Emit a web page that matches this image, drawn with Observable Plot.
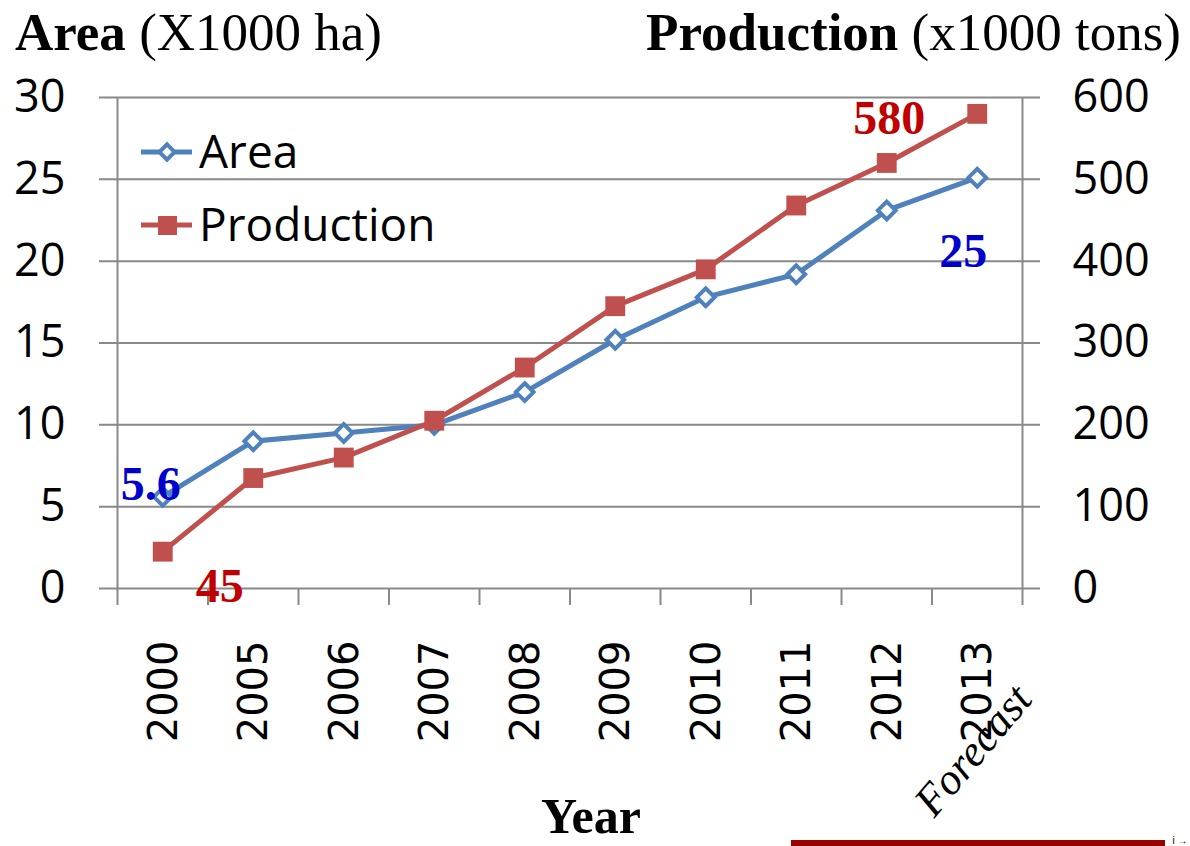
<!DOCTYPE html>
<html><head><meta charset="utf-8">
<script src="https://cdn.jsdelivr.net/npm/d3@7"></script>
<script src="https://cdn.jsdelivr.net/npm/@observablehq/plot@0.6"></script>
<style>
html,body{margin:0;padding:0;background:#fff;overflow:hidden;}
#wrap{position:relative;width:1190px;height:846px;overflow:hidden;background:#fff;}
#wrap > svg{display:block;}
#overlay{position:absolute;left:0;top:0;pointer-events:none;}
</style></head><body>
<div id="wrap"></div>
<script>
// ---- data ----
const years = ["2000","2005","2006","2007","2008","2009","2010","2011","2012","2013"];
const area = [5.6, 9.0, 9.5, 10.0, 12.0, 15.2, 17.8, 19.2, 23.1, 25.1];          // x1000 ha
const production = [45, 135, 160, 205, 270, 345, 390, 468, 520, 580];           // x1000 tons
const leftTicks = [0, 5, 10, 15, 20, 25, 30];
const rightTicks = [0, 100, 200, 300, 400, 500, 600];
const areaLabels = [{i: 0, text: "5.6"}, {i: 9, text: "25"}];
const prodLabels = [{i: 0, text: "45"}, {i: 9, text: "580"}];
const forecastNote = [{i: 9, text: "Forecast"}];

const ratio = 600 / 30;
const idx = years.map((_, i) => i);
const boundaries = d3.range(-0.5, years.length, 1);

const BLUE = "#4F81BD", RED = "#C0504D", GRID = "#898989";
const axisFont = "'Open Sans', 'Noto Sans', sans-serif";
const serif = "'Liberation Serif', 'Times New Roman', serif";

const plot = Plot.plot({
  width: 1190, height: 846,
  marginLeft: 117, marginRight: 168, marginTop: 97, marginBottom: 258,
  style: {background: "white", overflow: "visible"},
  x: {type: "linear", domain: [-0.5, years.length - 0.5]},
  y: {domain: [0, 30]},
  marks: [
    Plot.ruleY(leftTicks, {y: d => d, stroke: GRID, strokeWidth: 2, insetLeft: -18, insetRight: -18}),
    Plot.ruleX([-0.5, years.length - 0.5], {x: d => d, y1: 0, y2: 30, stroke: GRID, strokeWidth: 2}),
    Plot.axisX({ticks: boundaries, tickSize: 17, tickFormat: () => "", stroke: GRID, strokeWidth: 2}),
    Plot.axisY({ticks: leftTicks, tickSize: 0, tickPadding: 52, fontSize: 45, fontFamily: axisFont, fill: "black", label: null}),
    Plot.axisY({anchor: "right", ticks: rightTicks.map(v => v / ratio), tickFormat: v => Math.round(v * ratio),
                tickSize: 0, tickPadding: 50, fontSize: 45, fontFamily: axisFont, fill: "black", label: null}),
    Plot.text(idx, {x: i => i, text: i => years[i], frameAnchor: "bottom", rotate: -90, textAnchor: "end",
                    lineAnchor: "middle", dy: 52, dx: 1, fontSize: 40, fontFamily: "'DejaVu Sans', sans-serif",
                    fill: "black", ariaLabel: "xlabels"}),
    Plot.line(idx, {x: i => i, y: i => area[i], stroke: BLUE, strokeWidth: 5}),
    Plot.dot(idx, {x: i => i, y: i => area[i], symbol: "diamond2", r: 8, stroke: BLUE, strokeWidth: 4, fill: "white"}),
    Plot.line(idx, {x: i => i, y: i => production[i] / ratio, stroke: RED, strokeWidth: 5}),
    Plot.dot(idx, {x: i => i, y: i => production[i] / ratio, symbol: "square", r: 11.2, fill: RED, stroke: "none"}),
    Plot.text([areaLabels[0]], {x: "i", y: d => area[d.i], text: "text", dx: -12, dy: 3, lineAnchor: "bottom",
                    fontSize: 48, fontWeight: "bold", fontFamily: serif, fill: "#0000CC"}),
    Plot.text([areaLabels[1]], {x: "i", y: d => area[d.i], text: "text", dx: -14, dy: 89, lineAnchor: "bottom",
                    fontSize: 48, fontWeight: "bold", fontFamily: serif, fill: "#0000CC"}),
    Plot.text([prodLabels[0]], {x: "i", y: d => production[d.i] / ratio, text: "text", dx: 57, dy: 50, lineAnchor: "bottom",
                    fontSize: 48, fontWeight: "bold", fontFamily: serif, fill: "#C00000"}),
    Plot.text([prodLabels[1]], {x: "i", y: d => production[d.i] / ratio, text: "text", dx: -88, dy: 20, lineAnchor: "bottom",
                    fontSize: 48, fontWeight: "bold", fontFamily: serif, fill: "#C00000"}),
    Plot.text(forecastNote, {x: "i", text: "text", frameAnchor: "bottom", rotate: -50, dx: -4, dy: 162,
                    lineAnchor: "middle", fontSize: 44, fontStyle: "italic", fontFamily: serif, fill: "black"})
  ]
});

const wrap = document.getElementById("wrap");
wrap.appendChild(plot);
// make the DejaVu year labels taller, as in the reference
d3.select(plot).selectAll('g[aria-label="xlabels"] text').attr("transform", function() {
  return (this.getAttribute("transform") || "") + " scale(1,1.25)";
});

// ---- titles, legend, footer (layout text) ----
const ov = d3.select(wrap).append("svg").attr("id", "overlay").attr("width", 1190).attr("height", 846);
const t1 = ov.append("text").attr("x", 15).attr("y", 50).attr("font-family", serif).attr("font-size", 53);
t1.append("tspan").attr("font-weight", "bold").text("Area");
t1.append("tspan").text(" (X1000 ha)");
const t2 = ov.append("text").attr("x", 1181).attr("y", 50).attr("text-anchor", "end").attr("font-family", serif).attr("font-size", 53);
t2.append("tspan").attr("font-weight", "bold").text("Production");
t2.append("tspan").text(" (x1000 tons)");
ov.append("text").attr("x", 591).attr("y", 833).attr("text-anchor", "middle").attr("font-family", serif)
  .attr("font-size", 50).attr("font-weight", "bold").text("Year");
ov.append("rect").attr("x", 791).attr("y", 840).attr("width", 374).attr("height", 6).attr("fill", "#990000");

const legend = [{name: "Area", color: BLUE, sym: "diamond", y: 152}, {name: "Production", color: RED, sym: "square", y: 225}];
legend.forEach(l => {
  ov.append("line").attr("x1", 141).attr("x2", 192).attr("y1", l.y).attr("y2", l.y).attr("stroke", l.color).attr("stroke-width", 5);
  if (l.sym === "diamond") {
    ov.append("path").attr("d", d3.symbol(d3.symbolDiamond2, 150)()).attr("transform", `translate(167,${l.y})`)
      .attr("fill", "white").attr("stroke", l.color).attr("stroke-width", 4);
  } else {
    ov.append("rect").attr("x", 158).attr("y", l.y - 9).attr("width", 19).attr("height", 19).attr("fill", l.color);
  }
  ov.append("text").attr("x", 199).attr("y", l.y + 16).attr("font-family", axisFont).attr("font-size", 46).attr("fill", "black").text(l.name);
});
</script>
</body></html>
